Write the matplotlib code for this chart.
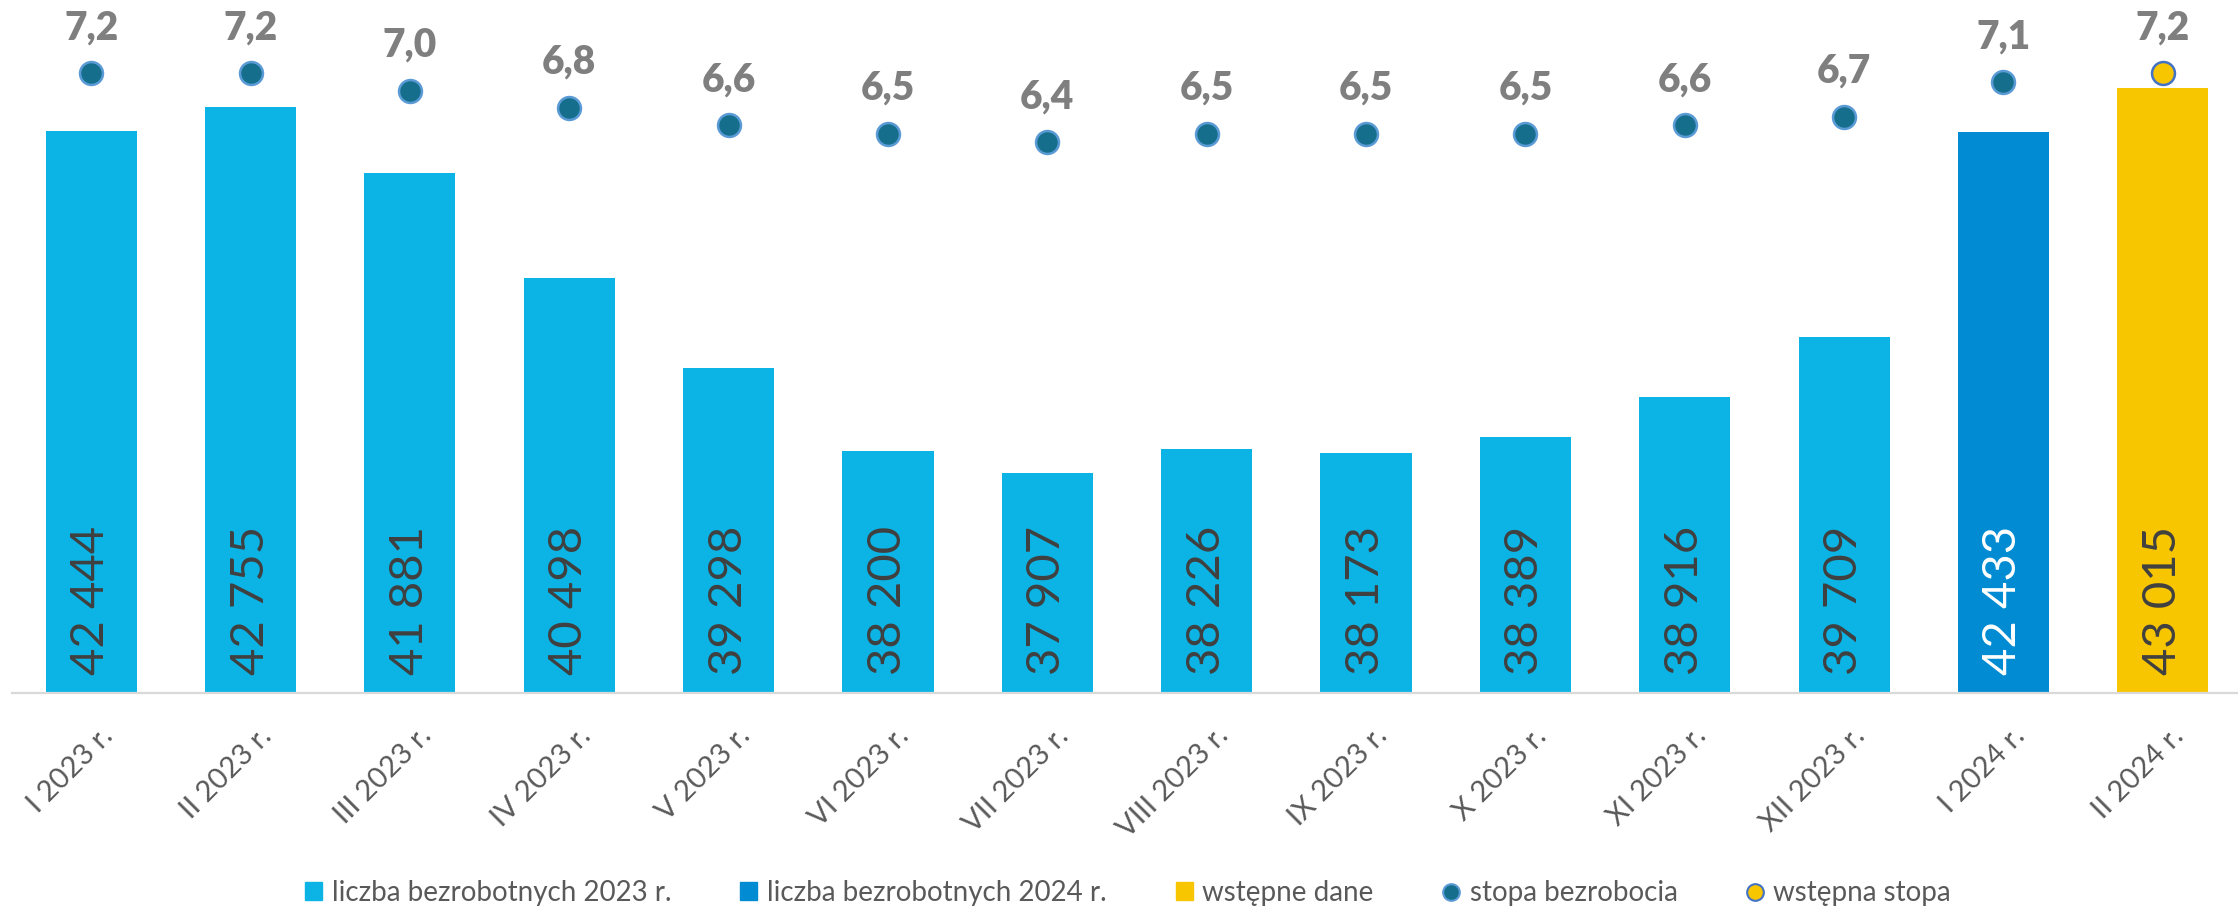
import matplotlib as mpl
mpl.use('Agg')
import matplotlib.pyplot as plt
import matplotlib.transforms as mtransforms
from matplotlib.patches import Patch
from matplotlib.lines import Line2D

plt.rcParams['font.family'] = ['Lato', 'DejaVu Sans']

# dane
miesiace = ['I 2023 r.', 'II 2023 r.', 'III 2023 r.', 'IV 2023 r.', 'V 2023 r.', 'VI 2023 r.',
            'VII 2023 r.', 'VIII 2023 r.', 'IX 2023 r.', 'X 2023 r.', 'XI 2023 r.', 'XII 2023 r.',
            'I 2024 r.', 'II 2024 r.']
bezrobotni = [42444, 42755, 41881, 40498, 39298, 38200, 37907, 38226, 38173, 38389, 38916, 39709,
              42433, 43015]
stopa = [7.2, 7.2, 7.0, 6.8, 6.6, 6.5, 6.4, 6.5, 6.5, 6.5, 6.6, 6.7, 7.1, 7.2]
n_2023 = 12   # ile miesiecy z 2023
n_wstepne = 1  # ostatnie wstepne

kol_2023 = '#0CB4E5'
kol_2024 = '#008BD2'
kol_wst = '#F8C600'
kol_kropka = '#156E8C'
kol_obw = '#5B9BD5'

W, H = 2238, 913
fig = plt.figure(figsize=(W / 100, H / 100), dpi=100)
ax = fig.add_axes([11.5 / W, 1 - 692.7 / H, (2242.5 - 11.5) / W, (692.7 - 13.3) / H])

x = list(range(len(miesiace)))
n_all = len(miesiace)
kolory = [kol_2023] * n_2023 + [kol_2024] * (n_all - n_2023 - n_wstepne) + [kol_wst] * n_wstepne
ax.bar(x, [v - 35000 for v in bezrobotni], bottom=35000, width=0.572, color=kolory, zorder=2)
ax.set_ylim(35000, 44000)
ax.set_xlim(-0.5, n_all - 0.5)

for i, v in enumerate(bezrobotni):
    c = 'white' if kolory[i] == kol_2024 else '#404040'
    ax.annotate(f"{v:,}".replace(',', ' '), (i, 35000), xytext=(0, 13), textcoords='offset points',
                rotation=90, ha='center', va='bottom', fontsize=34, color=c, zorder=3)

for s in ['top', 'left', 'right']:
    ax.spines[s].set_visible(False)
ax.spines['bottom'].set_color('#D9D9D9')
ax.spines['bottom'].set_linewidth(1.6)
ax.set_yticks([])
ax.set_xticks(x)
ax.tick_params(axis='x', length=0, pad=0)
ax.set_xticklabels(miesiace, rotation=45, ha='right', va='top', rotation_mode='anchor',
                   fontsize=21, color='#595959')
offset = mtransforms.ScaledTranslation(8 / 100, -30 / 100, fig.dpi_scale_trans)
for lab in ax.get_xticklabels():
    lab.set_transform(lab.get_transform() + offset)

ax2 = ax.twinx()
ax2.set_ylim(0, 7.9)
ax2.set_axis_off()
k = n_all - n_wstepne
ax2.plot(x[:k], stopa[:k], 'o', ms=16.5, mfc=kol_kropka, mec=kol_obw, mew=1.8, zorder=4)
ax2.plot(x[k:], stopa[k:], 'o', ms=16.5, mfc=kol_wst, mec='#4472C4', mew=1.8, zorder=4)
for i, r in enumerate(stopa):
    ax2.annotate(f"{r:.1f}".replace('.', ','), (i, r), xytext=(0, 24.5), textcoords='offset points',
                 ha='center', va='baseline', fontsize=28, fontweight='heavy', color='#7F7F7F')

uchwyty = [Patch(color=kol_2023), Patch(color=kol_2024), Patch(color=kol_wst),
           Line2D([], [], ls='none', marker='o', ms=12, mfc=kol_kropka, mec=kol_obw, mew=1.5),
           Line2D([], [], ls='none', marker='o', ms=12, mfc=kol_wst, mec='#4472C4', mew=1.5)]
opisy = ['liczba bezrobotnych 2023 r.', 'liczba bezrobotnych 2024 r.', 'wstępne dane',
         'stopa bezrobocia', 'wstępna stopa']
fig.legend(uchwyty, opisy, loc='center', bbox_to_anchor=(1128 / W, 1 - 893 / H), ncol=5,
           frameon=False, fontsize=20, labelcolor='#595959', handlelength=0.6, handleheight=0.6,
           handletextpad=0.35, columnspacing=2.5, borderpad=0)

fig.savefig('out.png', dpi=100)
